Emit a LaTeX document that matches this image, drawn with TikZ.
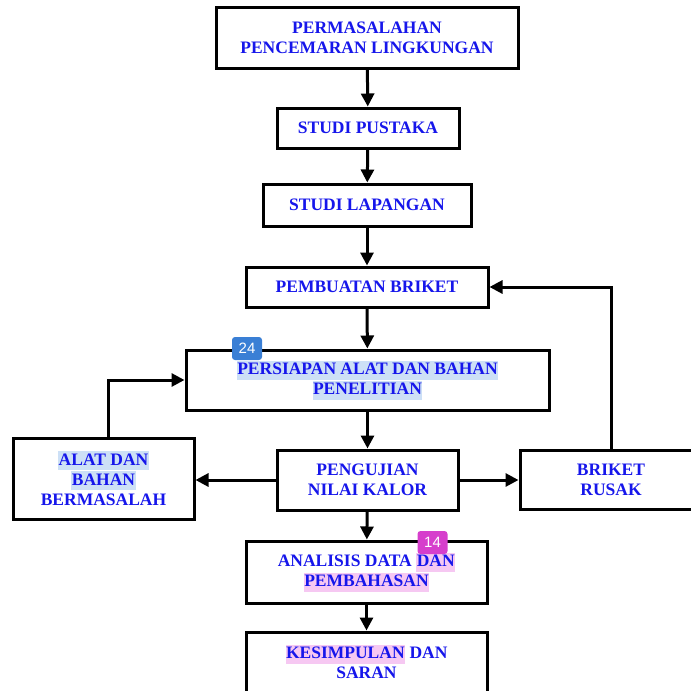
\documentclass[tikz,border=0pt]{standalone}
\usepackage{fontspec}
\setmainfont{Liberation Serif}
\setsansfont{Liberation Sans}
\usetikzlibrary{arrows.meta}
\definecolor{txtblue}{RGB}{22,22,235}
\definecolor{hlblue}{RGB}{205,224,246}
\definecolor{hlpink}{RGB}{246,200,242}
\definecolor{badgeblue}{RGB}{58,127,213}
\definecolor{badgepink}{RGB}{214,62,204}
\newcommand\hlb[1]{{\setlength\fboxsep{0.5pt}\colorbox{hlblue}{\rule[-4.5pt]{0pt}{18pt}#1}}}
\newcommand\hlp[1]{{\setlength\fboxsep{0.5pt}\colorbox{hlpink}{\rule[-4.5pt]{0pt}{18pt}#1}}}
\tikzset{
  box/.style={draw, line width=3pt, fill=white, text=txtblue, align=center, inner sep=0pt,
    font=\fontsize{17.5}{20}\selectfont\bfseries},
  arr/.style={line width=3pt, -{Triangle[length=13pt,width=13pt]}},
  badge/.style={fill=#1, rounded corners=3pt, text=white, inner sep=0pt,
    minimum width=30pt, minimum height=23pt, font=\sffamily\fontsize{15}{15}\selectfont}
}
\begin{document}
\begin{tikzpicture}[x=1pt,y=-1pt]
\useasboundingbox (0,0) rectangle (691,691);
\clip (0,0) rectangle (691,691);
\node[box, minimum width=302pt, minimum height=61pt] (perm) at (367,37.5) {PERMASALAHAN\\PENCEMARAN LINGKUNGAN};
\node[box, minimum width=182pt, minimum height=40pt] (pustaka) at (368,128) {STUDI PUSTAKA};
\node[box, minimum width=208pt, minimum height=42pt] (lapangan) at (367,205) {STUDI LAPANGAN};
\node[box, minimum width=242pt, minimum height=40pt] (briket) at (367,287) {PEMBUATAN BRIKET};
\node[box, minimum width=363pt, minimum height=60pt] (persiapan) at (367.5,380) {\hlb{PERSIAPAN ALAT DAN BAHAN}\\\hlb{PENELITIAN}};
\node[box, minimum width=181pt, minimum height=81pt] (alat) at (103.5,478.5) {\hlb{ALAT DAN}\\\hlb{BAHAN}\\BERMASALAH};
\node[box, minimum width=181pt, minimum height=60pt] (uji) at (367.5,480) {PENGUJIAN\\NILAI KALOR};
\node[box, minimum width=182pt, minimum height=59pt] (rusak) at (611,479.5) {BRIKET\\RUSAK};
\node[box, minimum width=241pt, minimum height=62pt] (analisis) at (366.5,572) {ANALISIS DATA \hlp{DAN}\\\hlp{PEMBAHASAN}};
\node[box, minimum width=241pt, minimum height=60pt] (kesimpulan) at (366.5,662) {\hlp{KESIMPULAN} DAN\\SARAN};
\draw[arr] (perm) -- (pustaka);
\draw[arr] (pustaka) -- (lapangan);
\draw[arr] (lapangan) -- (briket);
\draw[arr] (briket) -- (persiapan);
\draw[arr] (persiapan) -- (uji);
\draw[arr] (uji) -- (analisis);
\draw[arr] (analisis) -- (kesimpulan);
\draw[arr] (uji.west) -- (uji.west -| alat.east);
\draw[arr] (uji.east) -- (uji.east -| rusak.west);
\draw[arr] (rusak.north) |- (briket.east);
\draw[arr] ([xshift=4.5pt]alat.north) |- (persiapan.west);
\node[badge=badgeblue] (b24) at (247,348.5) {24};
\node[badge=badgepink] (b14) at (432.5,542.5) {14};
\end{tikzpicture}
\end{document}
